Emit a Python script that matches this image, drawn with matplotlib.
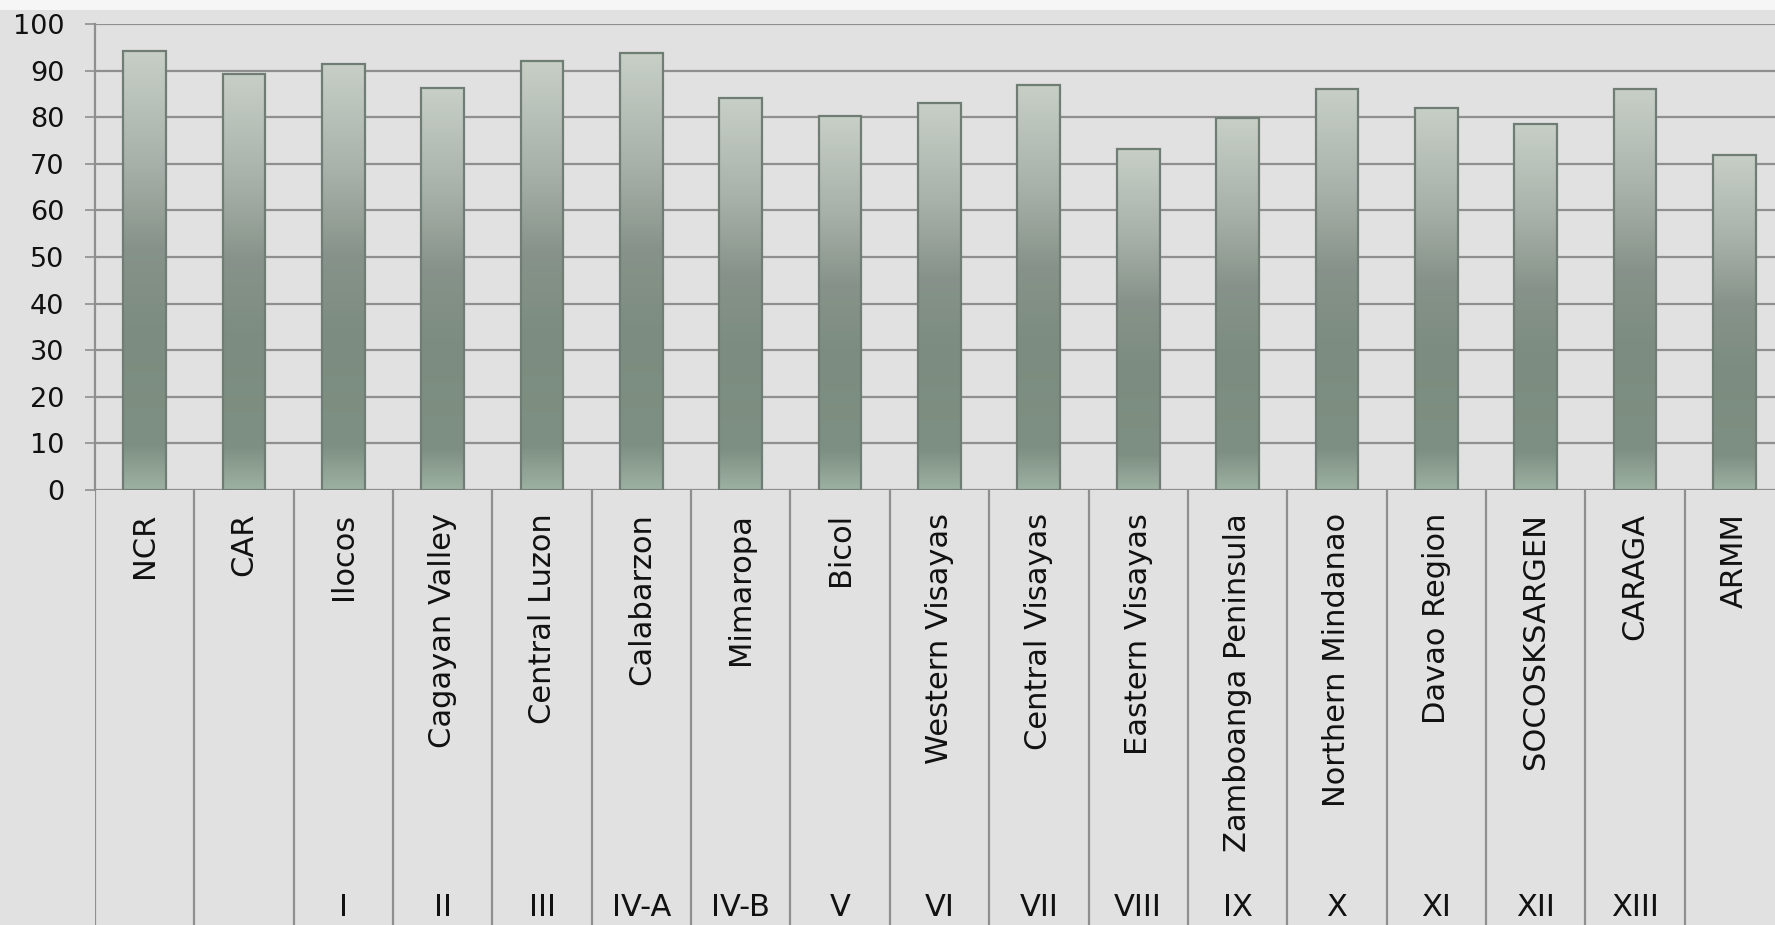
import numpy as np
import matplotlib
matplotlib.use("Agg")
import matplotlib.pyplot as plt
from matplotlib.colors import LinearSegmentedColormap
from matplotlib.patches import Rectangle

regions = ["NCR", "CAR", "Ilocos", "Cagayan Valley", "Central Luzon",
           "Calabarzon", "Mimaropa", "Bicol", "Western Visayas",
           "Central Visayas", "Eastern Visayas", "Zamboanga Peninsula",
           "Northern Mindanao", "Davao Region", "SOCOSKSARGEN", "CARAGA",
           "ARMM"]
region_codes = ["", "", "I", "II", "III", "IV-A", "IV-B", "V", "VI", "VII",
                "VIII", "IX", "X", "XI", "XII", "XIII", ""]
values = [94.3, 89.3, 91.5, 86.2, 92.1, 93.7, 84.1, 80.2, 83.0, 87.0,
          73.2, 79.8, 86.1, 82.0, 78.6, 86.0, 71.9]
yticks = list(range(0, 101, 10))

BG = "#e1e1e1"
GRID = "#8f8f8f"
W, H = 1775, 925

fig = plt.figure(figsize=(W / 100, H / 100), dpi=100, facecolor=BG)
fig.patches.append(Rectangle((0, 1 - 10 / H), 1, 10 / H, transform=fig.transFigure,
                             facecolor="#f6f6f6", edgecolor="none", zorder=0))

cat_w = 99.35
left = 95 / W
width = len(regions) * cat_w / W
bottom = 435 / H
ax = fig.add_axes([left, bottom, width, 466 / H])
ax.set_facecolor("none")

x = np.arange(len(regions))
bars = ax.bar(x, values, width=0.43, facecolor="none", edgecolor="#6f7d74",
              linewidth=1.6, zorder=3)

# light at the top, darkest around the lower third, lighter again at the base
grad = LinearSegmentedColormap.from_list("bar", [
    (0.0, "#9db1a3"), (0.1, "#7e9083"), (0.35, "#7c8c80"),
    (0.55, "#87938a"), (0.75, "#a9b2aa"), (1.0, "#c7cfc7")])
g = np.linspace(0, 1, 256).reshape(-1, 1)
for b in bars:
    ax.imshow(g, cmap=grad, origin="lower", aspect="auto", zorder=2,
              extent=[b.get_x(), b.get_x() + b.get_width(), 0, b.get_height()])

ax.set_xlim(-0.5, len(regions) - 0.5)
ax.set_ylim(0, 100)
ax.set_yticks(yticks)
ax.yaxis.grid(True, color=GRID, linewidth=1.6, zorder=1)
ax.set_axisbelow(True)
ax.set_xticks([])
ax.tick_params(axis="y", direction="out", length=7.2, width=1.2, color=GRID,
               pad=15, labelsize=19.5, labelcolor="#111111")
for s in ["top", "right", "bottom"]:
    ax.spines[s].set_visible(False)
ax.spines["left"].set_color(GRID)
ax.spines["left"].set_linewidth(1.6)

# category label area below the plot
lab = fig.add_axes([left, 0, width, bottom])
lab.set_facecolor("none")
lab.set_xlim(ax.get_xlim())
lab.set_ylim(0, 1)
lab.axis("off")
for k in range(len(regions) + 1):
    lab.axvline(k - 0.5, color=GRID, linewidth=1.6)
for i, (name, code) in enumerate(zip(regions, region_codes)):
    lab.text(i, (H - 513) / 435, name, rotation=90, ha="center", va="top",
             fontsize=22, color="#111111")
    if code:
        lab.text(i, (H - 907) / 435, code, ha="center", va="center",
                 fontsize=22, color="#111111")

fig.savefig("out.png", dpi=100, facecolor=BG)
